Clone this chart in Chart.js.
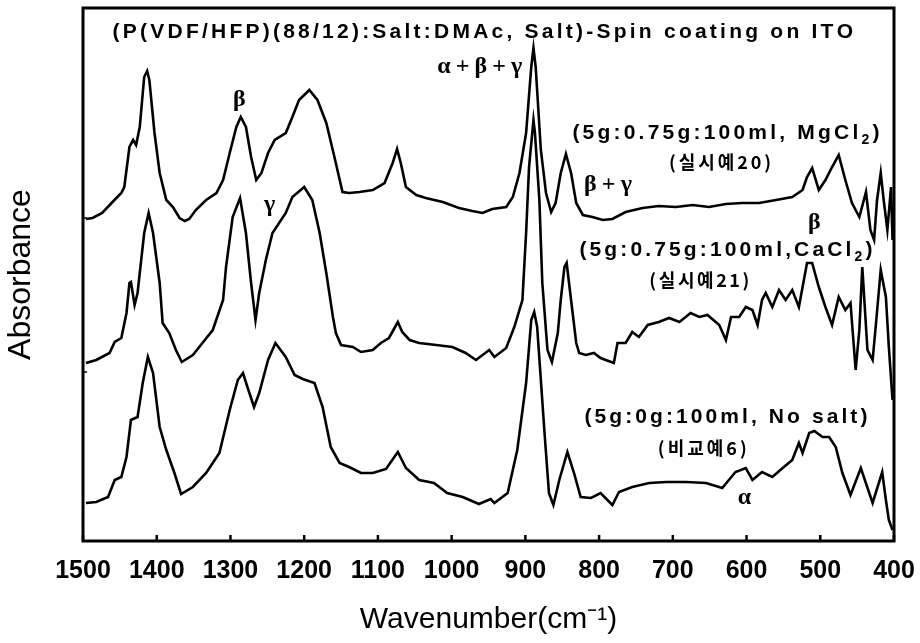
<!DOCTYPE html>
<html>
<head>
<meta charset="utf-8">
<script src="https://cdn.jsdelivr.net/npm/chart.js@4.4.1/dist/chart.umd.min.js"></script>
<style>
  html, body { margin: 0; padding: 0; background: #fff; }
  #wrap { width: 920px; height: 643px; }
</style>
</head>
<body>
<div id="wrap"><canvas id="c"></canvas></div>
<script>
// x axis ticks (wavenumber, cm-1)
const xTicks = [1500, 1400, 1300, 1200, 1100, 1000, 900, 800, 700, 600, 500, 400];
const yMarks = [1.69, 3.23];

// (5g:0.75g:100ml, MgCl2)
const mgWave = [1496,1487,1474,1460,1448,1444,1437,1432,1428,1423,1417,1413,1410,1403,1396,1387,1378,1369,1362,1356,1347,1333,1319,1310,1301,1292,1286,1279,1272,1265,1258,1249,1240,1225,1216,1207,1193,1182,1170,1159,1148,1139,1125,1107,1091,1080,1074,1069,1062,1048,1035,1012,990,972,958,945,926,917,908,899,892,889,886,879,872,865,859,852,845,838,831,822,809,795,782,764,741,719,696,673,651,628,606,583,560,538,524,518,511,502,493,484,475,466,457,447,438,432,427,423,418,414,409,404,402];
const mgAbs = [3.22,3.23,3.28,3.39,3.48,3.54,3.94,4.01,3.96,4.14,4.64,4.70,4.61,4.08,3.68,3.41,3.34,3.23,3.20,3.22,3.31,3.41,3.48,3.61,3.88,4.14,4.24,4.14,3.84,3.61,3.68,3.88,4.01,4.08,4.24,4.41,4.51,4.41,4.18,3.84,3.49,3.48,3.49,3.51,3.58,3.78,3.92,3.78,3.54,3.46,3.43,3.39,3.33,3.30,3.28,3.32,3.34,3.44,3.68,4.08,4.74,4.93,4.74,3.91,3.48,3.29,3.38,3.68,3.87,3.68,3.38,3.26,3.24,3.21,3.22,3.29,3.33,3.35,3.34,3.36,3.34,3.37,3.38,3.38,3.41,3.44,3.51,3.64,3.73,3.51,3.61,3.74,3.86,3.61,3.38,3.24,3.49,3.11,3.01,3.41,3.68,3.41,3.11,3.54,3.01];

// (5g:0.75g:100ml, CaCl2)
const caWave = [1496,1482,1464,1457,1448,1441,1437,1435,1430,1426,1417,1411,1405,1396,1392,1383,1374,1366,1351,1338,1324,1310,1306,1297,1287,1279,1272,1266,1261,1252,1243,1225,1216,1200,1189,1179,1170,1161,1157,1150,1134,1123,1107,1096,1085,1073,1067,1057,1044,1021,999,981,967,949,942,926,915,904,899,895,889,887,881,877,870,864,856,852,847,844,838,831,827,818,807,798,791,780,775,764,755,746,734,719,705,691,676,664,653,637,628,621,610,601,592,585,579,574,565,556,547,538,529,518,511,502,493,484,475,466,459,452,447,443,436,429,424,418,411,407,402];
const caAbs = [1.78,1.81,1.88,1.99,2.03,2.28,2.58,2.59,2.36,2.48,3.08,3.28,3.08,2.58,2.18,2.08,1.91,1.79,1.86,1.98,2.11,2.41,2.74,3.24,3.43,3.08,2.58,2.21,2.48,2.81,3.08,3.28,3.44,3.54,3.41,3.08,2.68,2.24,2.08,1.96,1.94,1.89,1.91,1.98,2.03,2.19,2.09,2.01,1.98,1.96,1.94,1.88,1.81,1.91,1.84,1.93,2.14,2.41,3.08,3.74,4.21,4.08,3.41,2.58,1.91,1.79,2.08,2.41,2.74,2.78,2.41,1.98,1.88,1.86,1.88,1.83,1.81,1.78,1.98,1.98,2.09,2.04,2.16,2.19,2.23,2.19,2.28,2.24,2.26,2.16,2.01,2.24,2.24,2.34,2.31,2.16,2.41,2.48,2.34,2.51,2.41,2.51,2.34,2.78,2.78,2.54,2.34,2.16,2.44,2.31,2.38,1.71,2.11,2.74,1.91,1.81,2.21,2.71,2.44,1.94,1.41];

// (5g:0g:100ml, No salt)
const noWave = [1496,1482,1466,1457,1448,1441,1435,1426,1419,1412,1405,1396,1387,1376,1367,1351,1333,1315,1301,1290,1283,1277,1268,1261,1249,1239,1225,1213,1202,1186,1175,1164,1152,1139,1123,1107,1089,1073,1062,1044,1024,1006,985,963,947,942,924,911,899,892,888,884,874,868,862,854,843,834,825,811,798,782,773,755,732,709,682,655,633,615,601,592,579,565,551,538,529,524,515,508,497,488,479,470,459,445,429,416,411,407,402];
const noAbs = [0.38,0.39,0.44,0.61,0.64,0.84,1.21,1.24,1.58,1.84,1.68,1.14,0.91,0.68,0.47,0.54,0.68,0.88,1.31,1.61,1.68,1.54,1.34,1.48,1.81,1.98,1.84,1.66,1.62,1.58,1.34,0.94,0.78,0.74,0.68,0.68,0.72,0.89,0.73,0.61,0.58,0.48,0.44,0.37,0.42,0.38,0.48,0.91,1.58,2.21,2.29,2.14,1.08,0.48,0.36,0.61,0.89,0.68,0.44,0.43,0.48,0.36,0.49,0.54,0.58,0.59,0.59,0.58,0.53,0.69,0.73,0.61,0.69,0.64,0.73,0.81,0.98,0.88,1.08,1.10,1.04,1.04,0.94,0.68,0.46,0.73,0.38,0.69,0.41,0.21,0.11];

const SANS = '"Liberation Sans", Arial, sans-serif';
const SERIF = '"Liberation Serif", "DejaVu Serif", serif';
const fTitle = 'bold 21px ' + SANS;
const fLab = 'bold 21px ' + SANS;
const fSub = 'bold 14px ' + SANS;
const fGreek = 'bold 24px ' + SERIF;
const fKr = 'bold 18px "Noto Sans CJK KR", sans-serif';

// text placed at (wavenumber, absorbance); width = spread of the text in px
const notes = [
  { parts: [['(P(VDF/HFP)(88/12):Salt:DMAc, Salt)-Spin coating on ITO', fTitle]], x: 958, y: 5.09, width: 740 },
  { parts: [['\u03b1+\u03b2+\u03b3', fGreek]], x: 962, y: 4.74, width: 85 },
  { parts: [['\u03b2', fGreek]], x: 1288, y: 4.41 },
  { parts: [['\u03b3', fGreek]], x: 1247, y: 3.36 },
  { parts: [['\u03b2+\u03b3', fGreek]], x: 788, y: 3.56, width: 48 },
  { parts: [['\u03b2', fGreek]], x: 508, y: 3.18 },
  { parts: [['\u03b1', fGreek]], x: 603, y: 0.43 },
  { parts: [['(5g:0.75g:100ml, MgCl', fLab], ['2', fSub, 7], [')', fLab]], x: 628, y: 4.08, width: 307 },
  { parts: [['(\uc2e4\uc2dc\uc60820)', fKr]], x: 636, y: 3.79, width: 102 },
  { parts: [['(5g:0.75g:100ml,CaCl', fLab], ['2', fSub, 7], [')', fLab]], x: 628, y: 2.91, width: 293 },
  { parts: [['(\uc2e4\uc2dc\uc60821)', fKr]], x: 664, y: 2.61, width: 100 },
  { parts: [['(5g:0g:100ml, No salt)', fLab]], x: 628, y: 1.24, width: 283 },
  { parts: [['(\ube44\uad50\uc6086)', fKr]], x: 660, y: 0.93, width: 89 }
];

function drawSpaced(ctx, parts, cx, cy, width) {
  let nat = 0, n = 0;
  parts.forEach(p => {
    ctx.font = p[1];
    nat += ctx.measureText(p[0]).width;
    n += [...p[0]].length;
  });
  const ls = width ? Math.max(0, (width - nat) / Math.max(1, n - 1)) : 0;
  let x = cx - (nat + ls * (n - 1)) / 2;
  parts.forEach(p => {
    ctx.font = p[1];
    for (const ch of p[0]) {
      ctx.fillText(ch, x, cy + (p[2] || 0));
      x += ctx.measureText(ch).width + ls;
    }
  });
}

const decorations = {
  id: 'decorations',
  afterDraw(chart) {
    const { ctx, chartArea: a, scales: { x, y } } = chart;
    ctx.save();
    ctx.strokeStyle = '#000';
    ctx.lineWidth = 3;
    ctx.strokeRect(a.left, a.top, a.right - a.left, a.bottom - a.top);
    ctx.lineWidth = 2.5;
    xTicks.forEach(v => {
      const px = x.getPixelForValue(v);
      ctx.beginPath(); ctx.moveTo(px, a.bottom); ctx.lineTo(px, a.bottom - 6); ctx.stroke();
    });
    ctx.lineWidth = 1.5;
    yMarks.forEach(v => {
      const py = y.getPixelForValue(v);
      ctx.beginPath(); ctx.moveTo(a.left, py); ctx.lineTo(a.left + 4, py); ctx.stroke();
    });
    ctx.fillStyle = '#000';
    ctx.textAlign = 'left';
    ctx.textBaseline = 'middle';
    notes.forEach(nt => drawSpaced(ctx, nt.parts, x.getPixelForValue(nt.x), y.getPixelForValue(nt.y), nt.width));
    ctx.restore();
  }
};

const toPoints = (ws, as) => ws.map((w, i) => ({ x: w, y: as[i] }));
const lineStyle = { borderColor: '#000', borderWidth: 2.6, pointRadius: 0, tension: 0, fill: false };

new Chart(document.getElementById('c'), {
  type: 'line',
  data: {
    datasets: [
      { label: 'MgCl2', data: toPoints(mgWave, mgAbs), ...lineStyle },
      { label: 'CaCl2', data: toPoints(caWave, caAbs), ...lineStyle },
      { label: 'No salt', data: toPoints(noWave, noAbs), ...lineStyle }
    ]
  },
  options: {
    responsive: true,
    maintainAspectRatio: false,
    animation: false,
    layout: { padding: { left: 0, right: 26, top: 8, bottom: 0 } },
    plugins: { legend: { display: false }, tooltip: { enabled: false } },
    scales: {
      x: {
        type: 'linear',
        reverse: true,
        min: 400,
        max: 1500,
        afterBuildTicks: s => { s.ticks = xTicks.map(v => ({ value: v })); },
        afterFit: s => { s.height = 102; s.paddingLeft = 0; s.paddingRight = 0; },
        grid: { display: false, drawTicks: false },
        border: { display: false },
        ticks: {
          color: '#000', padding: 15, maxRotation: 0, autoSkip: false,
          font: { family: SANS, size: 25, weight: 'bold' },
          callback: v => String(v)
        },
        title: { display: true, text: 'Wavenumber(cm\u207b\u00b9)', color: '#000', padding: { top: 0, bottom: 5 }, font: { family: SANS, size: 30 } }
      },
      y: {
        min: 0,
        max: 5.33,
        afterFit: s => { s.width = 83; },
        grid: { display: false, drawTicks: false },
        border: { display: false },
        ticks: { display: false },
        title: { display: true, text: 'Absorbance', color: '#000', padding: { top: 2, bottom: 0 }, font: { family: SANS, size: 32 } }
      }
    }
  },
  plugins: [decorations]
});
</script>
</body>
</html>
